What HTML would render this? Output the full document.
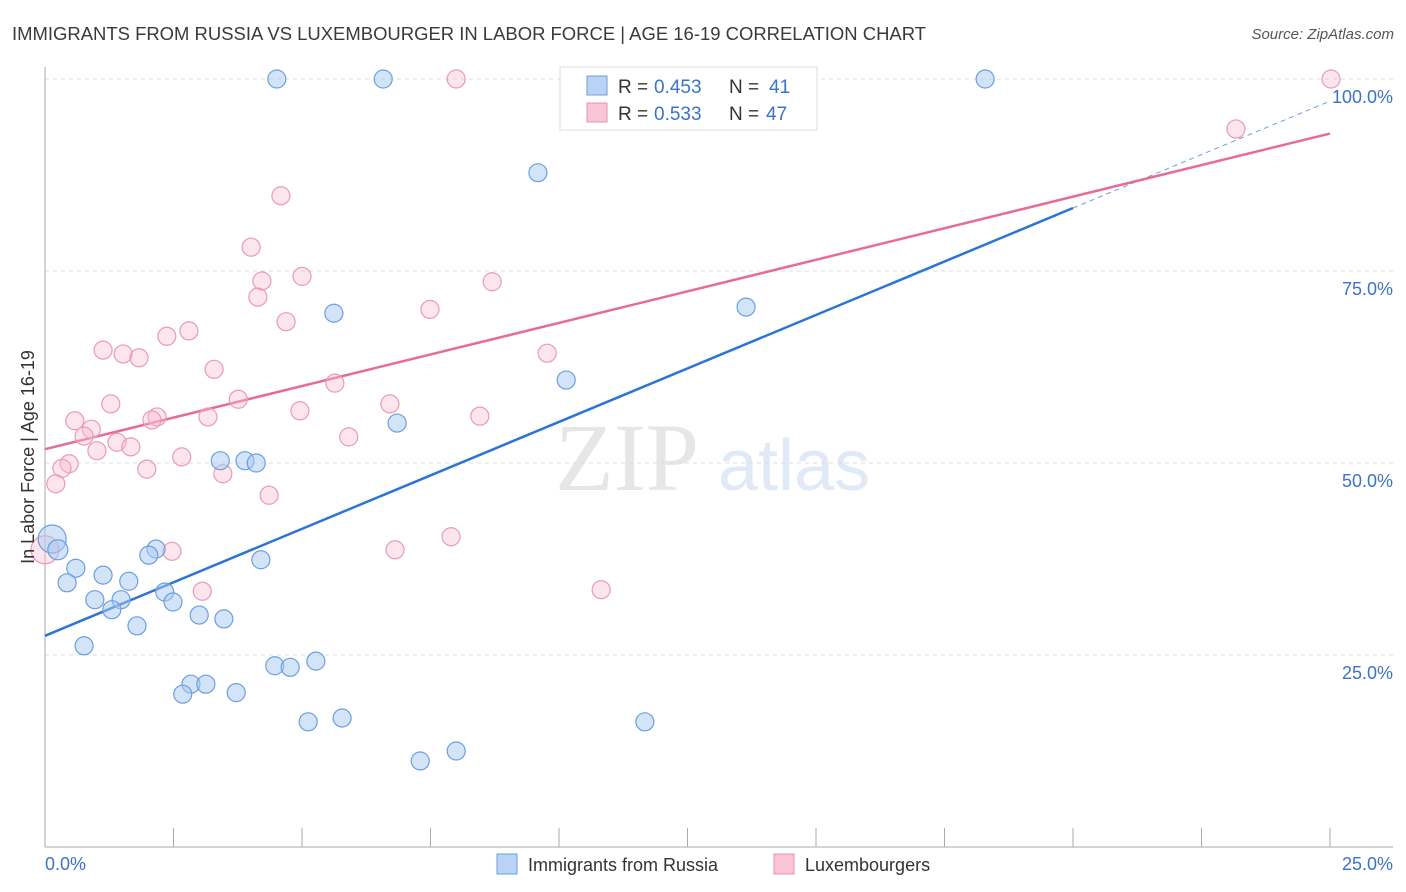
<!DOCTYPE html>
<html><head><meta charset="utf-8">
<style>
body{margin:0;background:#fff;font-family:"Liberation Sans",sans-serif;}
svg{display:block}
</style></head>
<body>
<svg id="chart" width="1406" height="892" xmlns="http://www.w3.org/2000/svg">
<text x="12" y="40" font-size="18" fill="#3a3a3a" textLength="914" lengthAdjust="spacingAndGlyphs">IMMIGRANTS FROM RUSSIA VS LUXEMBOURGER IN LABOR FORCE | AGE 16-19 CORRELATION CHART</text>
<text x="1394" y="39" font-size="15" fill="#555" font-style="italic" text-anchor="end">Source: ZipAtlas.com</text>
<g opacity="0.18">
<text x="555" y="490" font-size="96" font-family="Liberation Serif" fill="#777">ZIP</text>
<text x="718" y="490" font-size="72" fill="#5b8fd8">atlas</text>
</g>
<g id="grid"></g>
<g id="axes"></g>
<g id="lines"></g>
<g id="points"></g>
<text transform="translate(34,457) rotate(-90)" font-size="18" fill="#333" text-anchor="middle">In Labor Force | Age 16-19</text>
<g>
<rect x="560" y="67" width="257" height="63" fill="#fff" stroke="#ddd"/>
<rect x="587" y="76" width="20" height="19" fill="#b9d3f5" stroke="#6a9fde"/>
<rect x="587" y="103" width="20" height="19" fill="#f9c6d5" stroke="#e890b0"/>
<text x="618" y="93" font-size="19" fill="#333">R =</text>
<text x="654" y="93" font-size="19" fill="#3a73c8">0.453</text>
<text x="729" y="93" font-size="19" fill="#333">N =</text>
<text x="769" y="93" font-size="19" fill="#3a73c8">41</text>
<text x="618" y="120" font-size="19" fill="#333">R =</text>
<text x="654" y="120" font-size="19" fill="#3a73c8">0.533</text>
<text x="729" y="120" font-size="19" fill="#333">N =</text>
<text x="766" y="120" font-size="19" fill="#3a73c8">47</text>
</g>
<g>
<rect x="497" y="854" width="20" height="20" fill="#b9d3f5" stroke="#6a9fde"/>
<text x="528" y="871" font-size="18" fill="#333">Immigrants from Russia</text>
<rect x="774" y="854" width="20" height="20" fill="#f9c6d5" stroke="#e890b0"/>
<text x="805" y="871" font-size="18" fill="#333">Luxembourgers</text>
</g>
</svg>
<script>
const yTicks=[25,50,75,100];
const yTickLabels=["25.0%","50.0%","75.0%","100.0%"];
const xTickLabels=["0.0%","25.0%"];
const blueX=[4.51,6.58,18.29,9.59,13.64,5.62,10.14,6.85,3.41,3.89,4.11,0.14,0.25,2.16,2.02,4.20,0.60,0.43,1.13,1.63,0.97,1.48,1.30,2.33,2.49,3.00,3.48,1.79,0.76,4.47,4.77,5.27,2.84,3.13,2.68,3.72,5.12,5.78,11.67,8.00,7.30];
const blueY=[100,100,100,87.8,70.3,69.5,60.8,55.2,50.3,50.3,50.0,40.1,38.7,38.8,38.0,37.4,36.3,34.4,35.4,34.6,32.2,32.2,30.9,33.2,31.9,30.2,29.7,28.8,26.2,23.6,23.4,24.2,21.2,21.2,19.9,20.1,16.3,16.8,16.3,12.5,11.2];
const pinkX=[8.00,25.02,23.17,4.59,4.01,4.22,5.00,8.70,4.14,4.69,7.49,2.80,2.37,1.13,1.52,1.83,9.77,3.29,5.64,3.76,1.28,6.71,4.96,3.17,8.46,2.18,2.08,0.58,0.90,0.76,1.40,1.67,1.01,5.91,2.66,0.47,0.33,1.98,3.46,0.21,4.36,7.90,6.81,2.47,0.0,10.82,3.06];
const pinkY=[100,100,93.5,84.8,78.1,73.7,74.3,73.6,71.6,68.4,70.0,67.2,66.5,64.7,64.2,63.7,64.3,62.2,60.4,58.3,57.7,57.7,56.8,56.0,56.1,56.0,55.6,55.5,54.4,53.5,52.7,52.1,51.6,53.4,50.8,49.9,49.3,49.2,48.6,47.3,45.8,40.4,38.7,38.5,38.7,33.5,33.3];
const blueR=[9,9,9,9,9,9,9,9,9,9,9,14,10,9,9,9,9,9,9,9,9,9,9,9,9,9,9,9,9,9,9,9,9,9,9,9,9,9,9,9,9];
const pinkR=pinkX.map((x,i)=>i===44?14:9);
const blueTrend=[0,27.5,20,83.2];
const pinkTrend=[0,51.8,25,92.9];
const X=v=>45+v/25*1285, Y=v=>847-v/100*768;
const NS="http://www.w3.org/2000/svg";
function mk(p,t,a){const e=document.createElementNS(NS,t);for(const k in a)e.setAttribute(k,a[k]);p.appendChild(e);return e;}
const grid=document.getElementById('grid'),axes=document.getElementById('axes'),lines=document.getElementById('lines'),pts=document.getElementById('points');
yTicks.forEach((t,i)=>{
 const g=mk(grid,'line',{x1:45,x2:1393,y1:Y(t),y2:Y(t),stroke:'#ddd','stroke-dasharray':'4,4'});
 
 const l=mk(axes,'text',{x:1393,y:Y(t)+24,'font-size':18,fill:'#3a73c8','text-anchor':'end'});
 l.textContent=yTickLabels[i];
 
});
mk(axes,'line',{x1:45,x2:45,y1:67,y2:847,stroke:'#aaa'});
mk(axes,'line',{x1:45,x2:1393,y1:847,y2:847,stroke:'#aaa'});
for(let i=0;i<=10;i++){const t=mk(axes,'line',{x1:X(i*2.5),x2:X(i*2.5),y1:828,y2:847,stroke:'#aaa'});}
const xl0=mk(axes,'text',{x:45,y:870,'font-size':18,fill:'#3a73c8'});xl0.textContent=xTickLabels[0];

const xl1=mk(axes,'text',{x:1393,y:870,'font-size':18,fill:'#3a73c8','text-anchor':'end'});xl1.textContent=xTickLabels[1];

function pt(x,y,r,f,s,n){const c=mk(pts,'circle',{cx:X(x),cy:Y(y),r:r,fill:f,stroke:s,'stroke-width':1.2});}
pinkX.forEach((x,i)=>pt(x,pinkY[i],pinkR[i],'rgba(248,190,208,0.4)','#e99ab6','point-luxembourger'));
blueX.forEach((x,i)=>pt(x,blueY[i],blueR[i],'rgba(170,202,242,0.5)','#6a9fde','point-russia'));
const bs=(blueTrend[3]-blueTrend[1])/(blueTrend[2]-blueTrend[0]);
const b1=mk(lines,'line',{x1:X(blueTrend[0]),y1:Y(blueTrend[1]),x2:X(blueTrend[2]),y2:Y(blueTrend[3]),stroke:'#2a74d8','stroke-width':2.5});

const b2=mk(lines,'line',{x1:X(blueTrend[2]),y1:Y(blueTrend[3]),x2:X(25),y2:Y(blueTrend[1]+bs*25),stroke:'#6a9fde','stroke-width':1,'stroke-dasharray':'5,4'});

const p1=mk(lines,'line',{x1:X(pinkTrend[0]),y1:Y(pinkTrend[1]),x2:X(pinkTrend[2]),y2:Y(pinkTrend[3]),stroke:'#e66b96','stroke-width':2.5});

</script>
</body></html>
